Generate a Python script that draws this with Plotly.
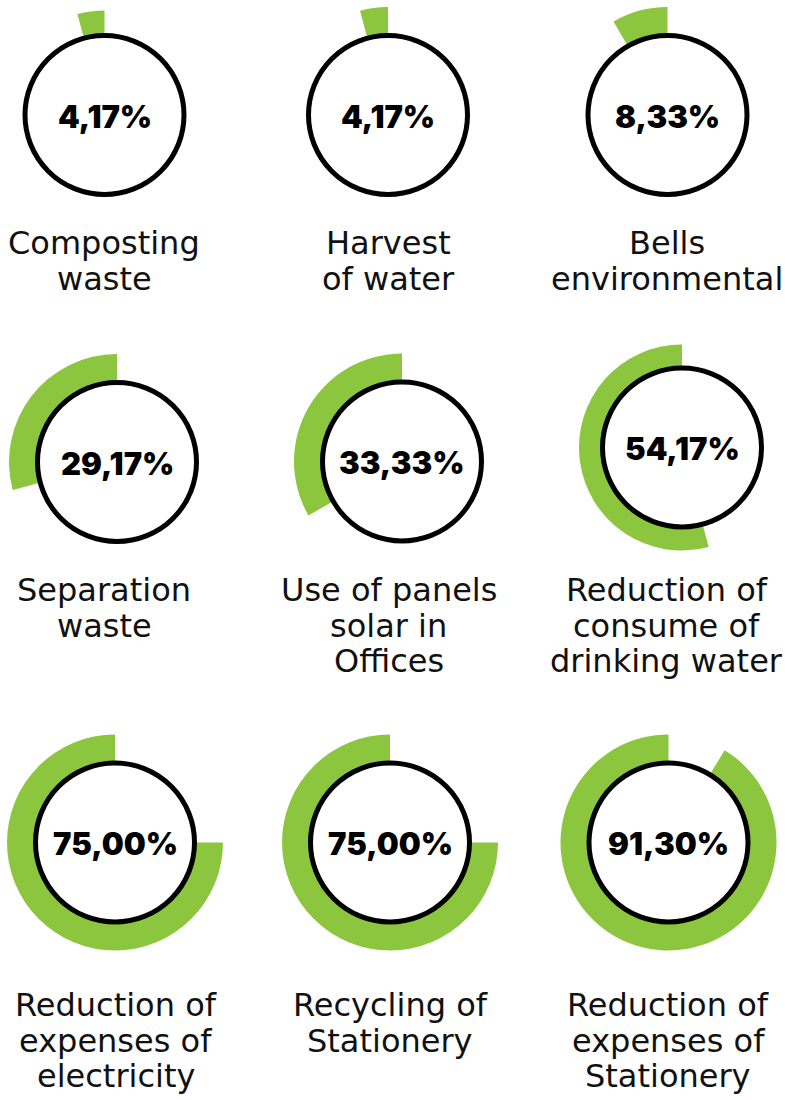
import plotly.graph_objects as go

# Indicator values (percent) and the text shown in each gauge
values = [4.17, 4.17, 8.33, 29.17, 33.33, 54.17, 75.00, 75.00, 91.30]
value_labels = ["4,17%", "4,17%", "8,33%", "29,17%", "33,33%", "54,17%",
                "75,00%", "75,00%", "91,30%"]
categories = [
    ["Composting", "waste"],
    ["Harvest", "of water"],
    ["Bells", "environmental"],
    ["Separation", "waste"],
    ["Use of panels", "solar in", "Offices"],
    ["Reduction of", "consume of", "drinking water"],
    ["Reduction of", "expenses of", "electricity"],
    ["Recycling of", "Stationery"],
    ["Reduction of", "expenses of", "Stationery"],
]

# Layout (pixels): gauge centres, caption centres, first caption line
W, H = 785, 1100
gauge_centers = [(104.5, 115), (388, 115), (667.5, 115),
                 (117, 462), (402, 461.5), (682, 447.5),
                 (115, 842.5), (390, 842.5), (668.5, 842.5)]
caption_x = [104, 388, 667, 104, 388.5, 666.5, 115.5, 390, 668]
caption_y = [243, 243, 243, 590, 590, 590, 1005, 1005, 1005]
LINE_STEP = 35.5
R_OUTER = 108
R_RING = 79.5
GREEN = "#8CC63F"


def px_x(x):
    return x / W


def px_y(y):
    return 1 - y / H


fig = go.Figure()
shapes = []
annotations = []

for i, v in enumerate(values):
    cx, cy = gauge_centers[i]
    r = min(R_OUTER, cx, W - cx)
    # Green progress arc, starting at 12 o'clock and running anticlockwise
    fig.add_trace(go.Pie(
        values=[v, 100 - v],
        marker=dict(colors=[GREEN, "rgba(0,0,0,0)"], line=dict(width=0)),
        sort=False,
        direction="clockwise",
        rotation=-360 * v / 100,
        hole=0.66,
        textinfo="none",
        hoverinfo="skip",
        showlegend=False,
        domain=dict(x=[px_x(cx - r), px_x(cx + r)],
                    y=[px_y(cy + r), px_y(cy - r)]),
    ))
    shapes.append(dict(
        type="circle", xref="paper", yref="paper", layer="above",
        x0=px_x(cx - R_RING), x1=px_x(cx + R_RING),
        y0=px_y(cy + R_RING), y1=px_y(cy - R_RING),
        line=dict(color="black", width=5), fillcolor="white",
    ))
    annotations.append(dict(
        x=px_x(cx), y=px_y(cy + 1), xref="paper", yref="paper",
        text=value_labels[i], showarrow=False,
        xanchor="center", yanchor="middle",
        font=dict(family="Inter", size=31, color="black", weight=900),
    ))
    for k, line in enumerate(categories[i]):
        annotations.append(dict(
            x=px_x(caption_x[i]), y=px_y(caption_y[i] + k * LINE_STEP),
            xref="paper", yref="paper", text=line, showarrow=False,
            xanchor="center", yanchor="middle",
            font=dict(family="DejaVu Sans", size=32, color="#111111"),
        ))

fig.update_layout(
    width=W, height=H,
    margin=dict(l=0, r=0, t=0, b=0),
    paper_bgcolor="white", plot_bgcolor="white",
    shapes=shapes, annotations=annotations,
)

fig.write_html("out.html")
